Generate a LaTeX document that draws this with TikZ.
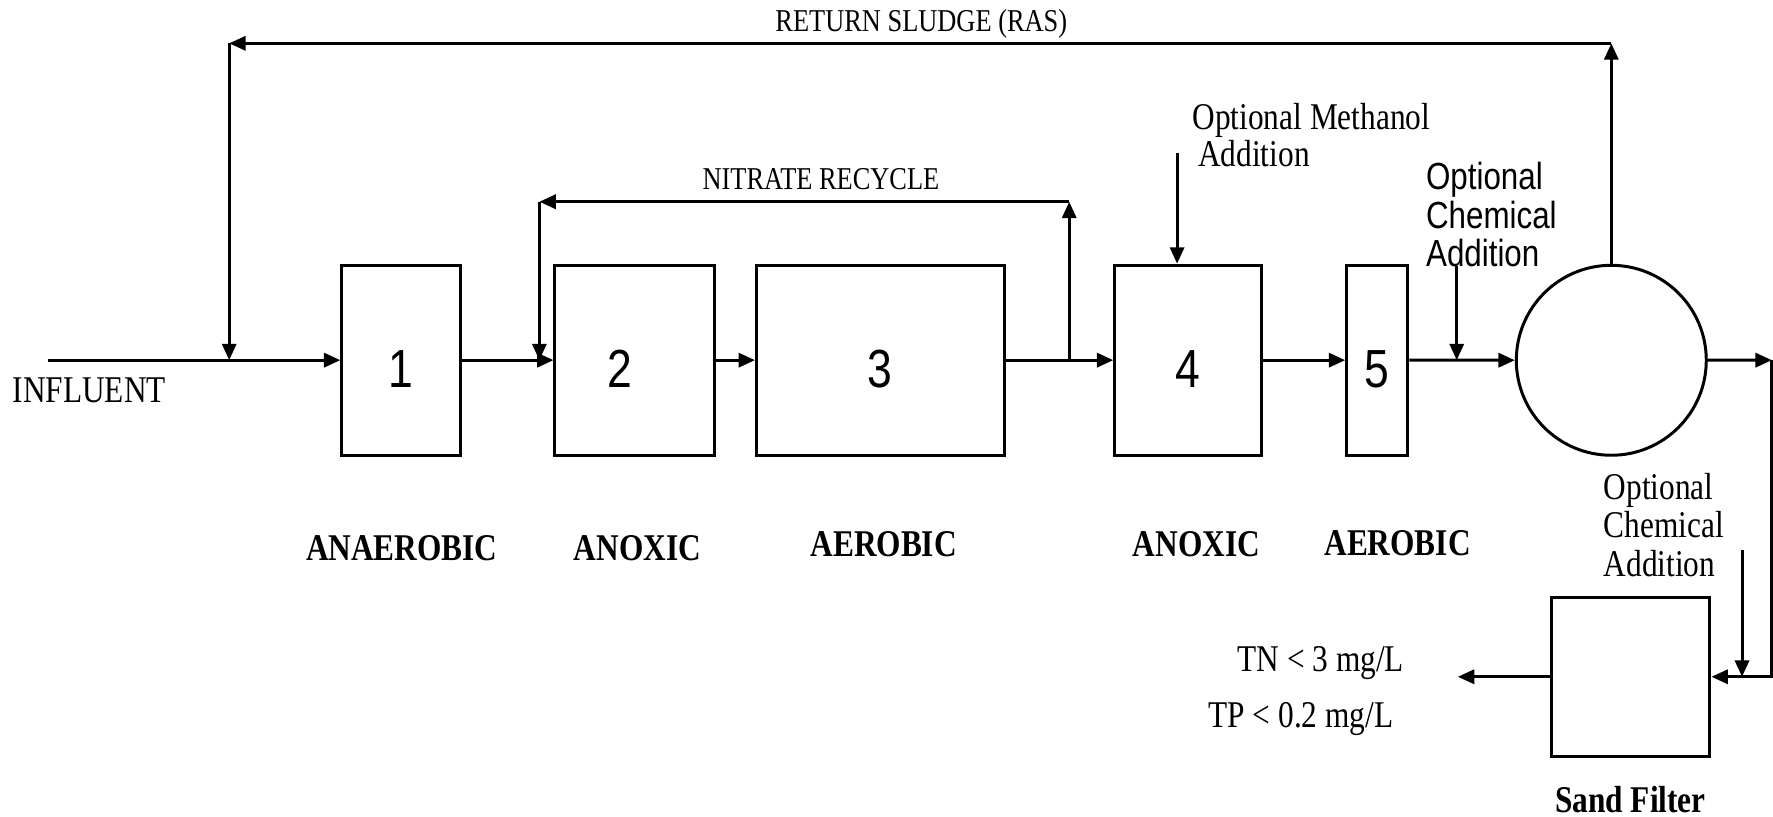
\documentclass[tikz,border=0pt]{standalone}
\usepackage{fontspec}
\setmainfont{Liberation Serif}[FakeStretch=0.83]
\newfontfamily\arialfont{Liberation Sans}[FakeStretch=0.83]
\usetikzlibrary{arrows.meta}

\tikzset{
    tank/.style={draw, line width=0.75pt, rectangle, inner sep=0pt, minimum height=16.8mm,
        font=\arialfont\fontsize{13.5}{16}\selectfont, text height=4.9mm},
    pipe/.style={line width=0.75pt},
    flow/.style={pipe, -{Triangle[length=1.45mm, width=1.25mm]}},
    zone/.style={inner sep=0pt, font=\bfseries\fontsize{9.5}{11}\selectfont},
    note/.style={inner sep=0pt, align=left, font=\fontsize{9.5}{9.5}\selectfont},
    caption/.style={inner sep=0pt, font=\fontsize{8}{9.6}\selectfont}
}

\begin{document}
\begin{tikzpicture}[x=0.1mm, y=-0.1mm]
    \useasboundingbox (0,0) rectangle (1568,722.5);

    % Define points
    \coordinate (In) at (42.7,318.5); % influent start
    \coordinate (RasIn) at (202.7,318.5); % RAS joins influent
    \coordinate (RasL) at (202.7,38.3);
    \coordinate (RasR) at (1425,38.3);
    \coordinate (NitJ) at (945.6,318.5); % nitrate take-off
    \coordinate (NitR) at (945.6,178.4);
    \coordinate (NitL) at (477,178.4);
    \coordinate (NitIn) at (477,318.5);
    \coordinate (Meth) at (1041,135.6);
    \coordinate (Chem) at (1288.3,235);
    \coordinate (ChemIn) at (1288.3,318.5);
    \coordinate (Eff) at (1567,318.5);
    \coordinate (Chem2) at (1540.6,486.5);
    \coordinate (Chem2In) at (1540.6,598.5);
    \coordinate (Out) at (1289.3,598.5);

    % Tanks
    \node[tank, minimum width=10.5mm] (T1) at (354.8,318.5) {1};
    \node[tank, minimum width=14.1mm] (T2) at (561.3,318.5) {\hspace*{-2.7mm}2};
    \node[tank, minimum width=21.9mm] (T3) at (778.5,318.5) {3};
    \node[tank, minimum width=13mm] (T4) at (1050.9,318.5) {4};
    \node[tank, minimum width=5.4mm] (T5) at (1218,318.5) {5};
    \node[draw, pipe, circle, inner sep=0pt, minimum size=16.8mm] (Clar) at (1425,318.6) {};
    \node[tank, minimum width=14.05mm, minimum height=14.03mm] (SF) at (1442,598.5) {};

    % Main flow
    \draw[flow] (In) -- (T1.west);
    \draw[flow] (T1) -- (T2);
    \draw[flow] (T2) -- (T3);
    \draw[flow] (T3) -- (T4);
    \draw[flow] (T4) -- (T5);
    \draw[flow] (T5) -- (Clar);
    \draw[flow] (Clar) -- (Eff);
    \draw[flow] (Eff) |- (SF);
    \draw[flow] (SF) -- (Out);

    % Return sludge
    \draw[flow] (Clar) -- (RasR);
    \draw[flow] (RasR) -- (RasL);
    \draw[flow] (RasL) -- (RasIn);

    % Nitrate recycle
    \draw[flow] (NitJ) -- (NitR);
    \draw[flow] (NitR) -- (NitL);
    \draw[flow] (NitL) -- (NitIn);

    % Additions
    \draw[flow] (Meth) -- (Meth |- T4.north);
    \draw[flow] (Chem) -- (ChemIn);
    \draw[flow] (Chem2) -- (Chem2In);

    % Draw labels
    \node[caption] (ras) at (814.8,21) {RETURN SLUDGE (RAS)};
    \node[caption] (nitrate) at (726,158) {NITRATE RECYCLE};
    \node[note] (influent) at (79,345) {INFLUENT};
    \node[note, anchor=west] (methanol) at (1054,119.5) {Optional Methanol\\\hspace*{0.5mm}Addition};
    \node[note, anchor=west, font=\arialfont\fontsize{9.5}{9.7}\selectfont] (chemA) at (1260.5,190) {Optional\\Chemical\\Addition};
    \node[note, anchor=west, font=\fontsize{9.5}{9.7}\selectfont] (chemB) at (1417.6,464) {Optional\\Chemical\\Addition};
    \node[note, anchor=east] (tn) at (1242.5,586) {TN < 3 mg/L};
    \node[note, anchor=east] (tp) at (1233,636) {TP < 0.2 mg/L};

    \node[zone] (z1) at (355.4,484.7) {ANAEROBIC};
    \node[zone] (z2) at (563.7,485) {ANOXIC};
    \node[zone] (z3) at (781.5,481) {AEROBIC};
    \node[zone] (z4) at (1058,481) {ANOXIC};
    \node[zone] (z5) at (1236,480.5) {AEROBIC};
    \node[zone] (sand) at (1442,707.5) {Sand Filter};

\end{tikzpicture}
\end{document}
